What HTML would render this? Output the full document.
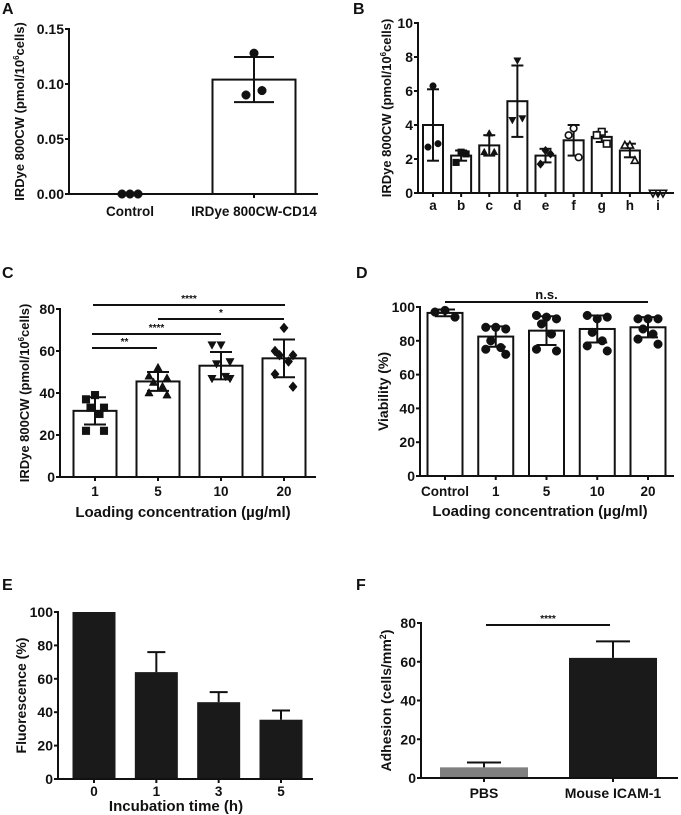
<!DOCTYPE html>
<html><head><meta charset="utf-8">
<style>
html,body{margin:0;padding:0;background:#fff;}
svg{display:block;font-family:"Liberation Sans",Arial,sans-serif;font-weight:bold;}
</style></head>
<body>
<svg id="fig" width="681" height="815" viewBox="0 0 681 815"></svg>
<script>
// ---------- Data ----------
const aCats = ["Control","IRDye 800CW-CD14"];
const aMeans = [0, 0.104];
const aSD = [0, 0.0205];
const aPts = [[0,0,0],[0.128,0.090,0.094]];
const aTicks = [0,0.05,0.10,0.15];

const bCats = ["a","b","c","d","e","f","g","h","i"];
const bMeans = [4.0,2.2,2.8,5.4,2.2,3.1,3.3,2.5,0];
const bSD = [2.1,0.3,0.6,2.1,0.4,0.9,0.3,0.4,0];
const bPts = [[6.3,2.7,2.9],[2.4,1.8,2.3],[3.5,2.4,2.4],[7.8,4.3,4.4],[2.5,1.7,2.3],[3.8,3.4,2.1],[3.6,3.4,2.9],[2.8,2.8,1.9],[0,0,0]];
const bShapes = ["circle","square","tri","tridown","diamond","ocircle","osquare","otri","otridown"];
const bTicks = [0,2,4,6,8,10];

const cCats = ["1","5","10","20"];
const cMeans = [31.5,45.5,53,56.5];
const cSD = [6.5,4.5,6.5,9];
const cPts = [[39,37,33,33,30,22,22],[52,48,47,45,43,40,39],[63,63,55,54,48,47,47],[71,60,58,58,55,49,43]];
const cShapes = ["square","tri","tridown","diamond"];
const cTicks = [0,20,40,60,80];

const dCats = ["Control","1","5","10","20"];
const dMeans = [96.5,82.5,86,87,88];
const dSD = [2,6,8.5,8,6];
const dPts = [[98,97,94],[88,88,87,80,76,75,72],[94,95,93,90,84,75,74],[93,95,94,85,80,77,74],[93,93,93,87,84,81,78]];
const dTicks = [0,20,40,60,80,100];

const eCats = ["0","1","3","5"];
const eMeans = [100,64,46,35.5];
const eErr = [0,12,6,5.5];
const eTicks = [0,20,40,60,80,100];

const fCats = ["PBS","Mouse ICAM-1"];
const fMeans = [5.5,62];
const fErr = [2.5,8.5];
const fTicks = [0,20,40,60,80];

// ---------- Helpers ----------
const svg = document.getElementById('fig');
const NS = "http://www.w3.org/2000/svg";
function el(tag, attrs, parent){
  const e = document.createElementNS(NS, tag);
  for (const k in attrs) e.setAttribute(k, attrs[k]);
  (parent||svg).appendChild(e);
  return e;
}
function txt(s, x, y, size, anchor, parent){
  const t = el('text', {x:x, y:y, 'font-size':size, 'text-anchor':anchor||'middle', fill:'#111'}, parent);
  t.textContent = s;
  return t;
}
// jitter pattern for cluster look (index-based)
const jx = [0,-1,1,-0.5,0.5,-1,1];
function marker(shape, x, y, r, g){
  let m;
  const filled = !shape.startsWith('o');
  const base = filled ? shape : shape.slice(1);
  const fill = filled ? '#111' : '#fff';
  if (base==='circle') m = el('circle',{cx:x,cy:y,r:r},g);
  else if (base==='square') m = el('rect',{x:x-r,y:y-r,width:2*r,height:2*r},g);
  else if (base==='tri') m = el('polygon',{points:`${x},${y-r*1.2} ${x-r*1.1},${y+r*0.8} ${x+r*1.1},${y+r*0.8}`},g);
  else if (base==='tridown') m = el('polygon',{points:`${x},${y+r*1.2} ${x-r*1.1},${y-r*0.8} ${x+r*1.1},${y-r*0.8}`},g);
  else m = el('polygon',{points:`${x},${y-r*1.3} ${x+r*1.1},${y} ${x},${y+r*1.3} ${x-r*1.1},${y}`},g);
  m.setAttribute('fill', fill);
  m.setAttribute('stroke', '#111');
  m.setAttribute('stroke-width', filled ? 0.5 : 1.6);
  
  
}
function panel(o){
  const g = el('g', {});
  
  
  const ymin = o.ticks[0], ymax = o.ticks[o.ticks.length-1];
  const Y = v => o.y0 - (v - ymin)/(ymax - ymin)*(o.y0 - o.y1);
  const n = o.cats.length;
  const step = (o.xs1 - o.xs0)/(n-1);
  const X = i => o.xs0 + i*step;
  const L = txt(o.letter, o.lx, o.ly, 16, 'start', g);
  
  
  o.means.forEach((m,i)=>{
    const top = Y(m), x = X(i) - o.bw/2;
    const fillc = o.fills ? o.fills[i] : '#fff';
    const b = el('rect', {x:x, y:top, width:o.bw, height:o.y0-top, fill:fillc, stroke: o.fills ? 'none' : '#111', 'stroke-width':2}, g);
    
    
  });
  o.means.forEach((m,i)=>{
    const e = o.err[i];
    if (!e) return;
    const cx = X(i), cw = o.capw;
    const lo = o.upOnly ? m : m - e;
    const eg = el('g', {stroke:'#111','stroke-width':2, fill:'none'}, g);
    
    
    el('line', {x1:cx, x2:cx, y1:Y(lo), y2:Y(m+e)}, eg);
    el('line', {x1:cx-cw, x2:cx+cw, y1:Y(m+e), y2:Y(m+e)}, eg);
    if (!o.upOnly) el('line', {x1:cx-cw, x2:cx+cw, y1:Y(m-e), y2:Y(m-e)}, eg);
  });
  if (o.pts) o.pts.forEach((arr,i)=>{
    const k = arr.length;
    arr.forEach((v,j)=>{
      const off = k===3 ? (j===0 ? 0 : (j===1 ? -1 : 1)) * o.spread : jx[j % jx.length] * o.spread;
      const sh = Array.isArray(o.shapes) ? o.shapes[i] : o.shapes;
      marker(sh, X(i)+off, Y(v), o.r, g);
    });
  });
  const ax = el('g', {stroke:'#111','stroke-width':2}, g);
  
  
  el('line', {x1:o.ax, x2:o.ax, y1:o.y1-1, y2:o.y0}, ax);
  el('line', {x1:o.ax-1, x2:o.axEnd, y1:o.y0, y2:o.y0}, ax);
  o.ticks.forEach(t=>{
    el('line', {x1:o.ax-4, x2:o.ax, y1:Y(t), y2:Y(t)}, ax);
    const tl = txt(o.fmt(t), o.ax-5, Y(t)+5, o.tfs, 'end', g);
    
    
  });
  o.cats.forEach((c,i)=>{
    el('line', {x1:X(i), x2:X(i), y1:o.y0, y2:o.y0+4}, ax);
    const cl = txt(c, X(i), o.y0+o.catDy, o.cfs, 'middle', g);
    
    
  });
  if (o.xlabel){
    const xl = txt(o.xlabel, o.xlx, o.xly, 15, 'middle', g);
    
    
  }
  const yl = el('text', {x:o.ylx, y:(o.y0+o.y1)/2, 'font-size':o.yfs, 'text-anchor':'middle', fill:'#111', transform:`rotate(-90 ${o.ylx} ${(o.y0+o.y1)/2})`}, g);
  yl.innerHTML = o.ylabel;
  
  
  (o.sig||[]).forEach(s=>{
    const sg = el('g', {}, g);
    
    
    el('line', {x1:s.x1, x2:s.x2, y1:s.y, y2:s.y, stroke:'#111','stroke-width':2}, sg);
    txt(s.t, (s.x1+s.x2)/2, s.y-3, s.fs||10, 'middle', sg);
  });
  return g;
}
const unitLbl = 'IRDye 800CW (pmol/10<tspan dy="-5" font-size="8">6</tspan><tspan dy="5">cells)</tspan>';

panel({name:'panel-a', letter:'A', lx:2, ly:14, cats:aCats, means:aMeans, err:aSD, pts:aPts, shapes:'circle', r:4.3, spread:8,
  ticks:aTicks, fmt:t=>t.toFixed(2), y0:194, y1:29, ax:69, axEnd:318, xs0:130, xs1:254, bw:83, capw:20,
  tfs:14, cfs:13.5, catDy:22, ylabel:unitLbl, ylx:24, yfs:13});

panel({name:'panel-b', letter:'B', lx:353, ly:14, cats:bCats, means:bMeans, err:bSD, pts:bPts, shapes:bShapes, r:3.3, spread:5,
  ticks:bTicks, fmt:t=>String(t), y0:193, y1:23, ax:418, axEnd:674, xs0:433, xs1:658, bw:20, capw:6,
  tfs:14, cfs:13.5, catDy:17, ylabel:unitLbl, ylx:391, yfs:13});

panel({name:'panel-c', letter:'C', lx:2, ly:278, cats:cCats, means:cMeans, err:cSD, pts:cPts, shapes:cShapes, r:3.8, spread:9,
  ticks:cTicks, fmt:t=>String(t), y0:477, y1:309, ax:60, axEnd:316, xs0:95, xs1:284, bw:43, capw:11,
  tfs:14, cfs:13.5, catDy:19, xlabel:'Loading concentration (µg/ml)', xlx:183, xly:517, ylabel:unitLbl, ylx:29, yfs:13,
  sig:[{x1:93,x2:285,y:305,t:'****'},{x1:158,x2:284,y:319,t:'*'},{x1:92,x2:221,y:334,t:'****'},{x1:92,x2:157,y:348,t:'**'}]});

panel({name:'panel-d', letter:'D', lx:356, ly:278, cats:dCats, means:dMeans, err:dSD, pts:dPts, shapes:'circle', r:4.3, spread:10,
  ticks:dTicks, fmt:t=>String(t), y0:476, y1:307, ax:420, axEnd:674, xs0:445, xs1:648, bw:35, capw:10,
  tfs:14, cfs:13.5, catDy:20, xlabel:'Loading concentration (µg/ml)', xlx:540, xly:516, ylabel:'Viability (%)', ylx:388, yfs:14,
  sig:[{x1:445,x2:648,y:302,t:'n.s.',fs:13}]});

panel({name:'panel-e', letter:'E', lx:2, ly:590, cats:eCats, means:eMeans, err:eErr, upOnly:true,
  fills:['#1a1a1a','#1a1a1a','#1a1a1a','#1a1a1a'],
  ticks:eTicks, fmt:t=>String(t), y0:779, y1:612, ax:58, axEnd:313, xs0:94, xs1:281, bw:43, capw:9,
  tfs:14, cfs:13.5, catDy:17, xlabel:'Incubation time (h)', xlx:176, xly:811, ylabel:'Fluorescence (%)', ylx:26, yfs:14});

panel({name:'panel-f', letter:'F', lx:356, ly:590, cats:fCats, means:fMeans, err:fErr, upOnly:true,
  fills:['#808080','#1a1a1a'],
  ticks:fTicks, fmt:t=>String(t), y0:778, y1:623, ax:421, axEnd:678, xs0:484, xs1:613, bw:88, capw:17,
  tfs:14, cfs:14, catDy:20, ylabel:'Adhesion (cells/mm<tspan dy="-5" font-size="9">2</tspan><tspan dy="5">)</tspan>', ylx:391, yfs:14,
  sig:[{x1:486,x2:610,y:625,t:'****'}]});
</script>
</body></html>
